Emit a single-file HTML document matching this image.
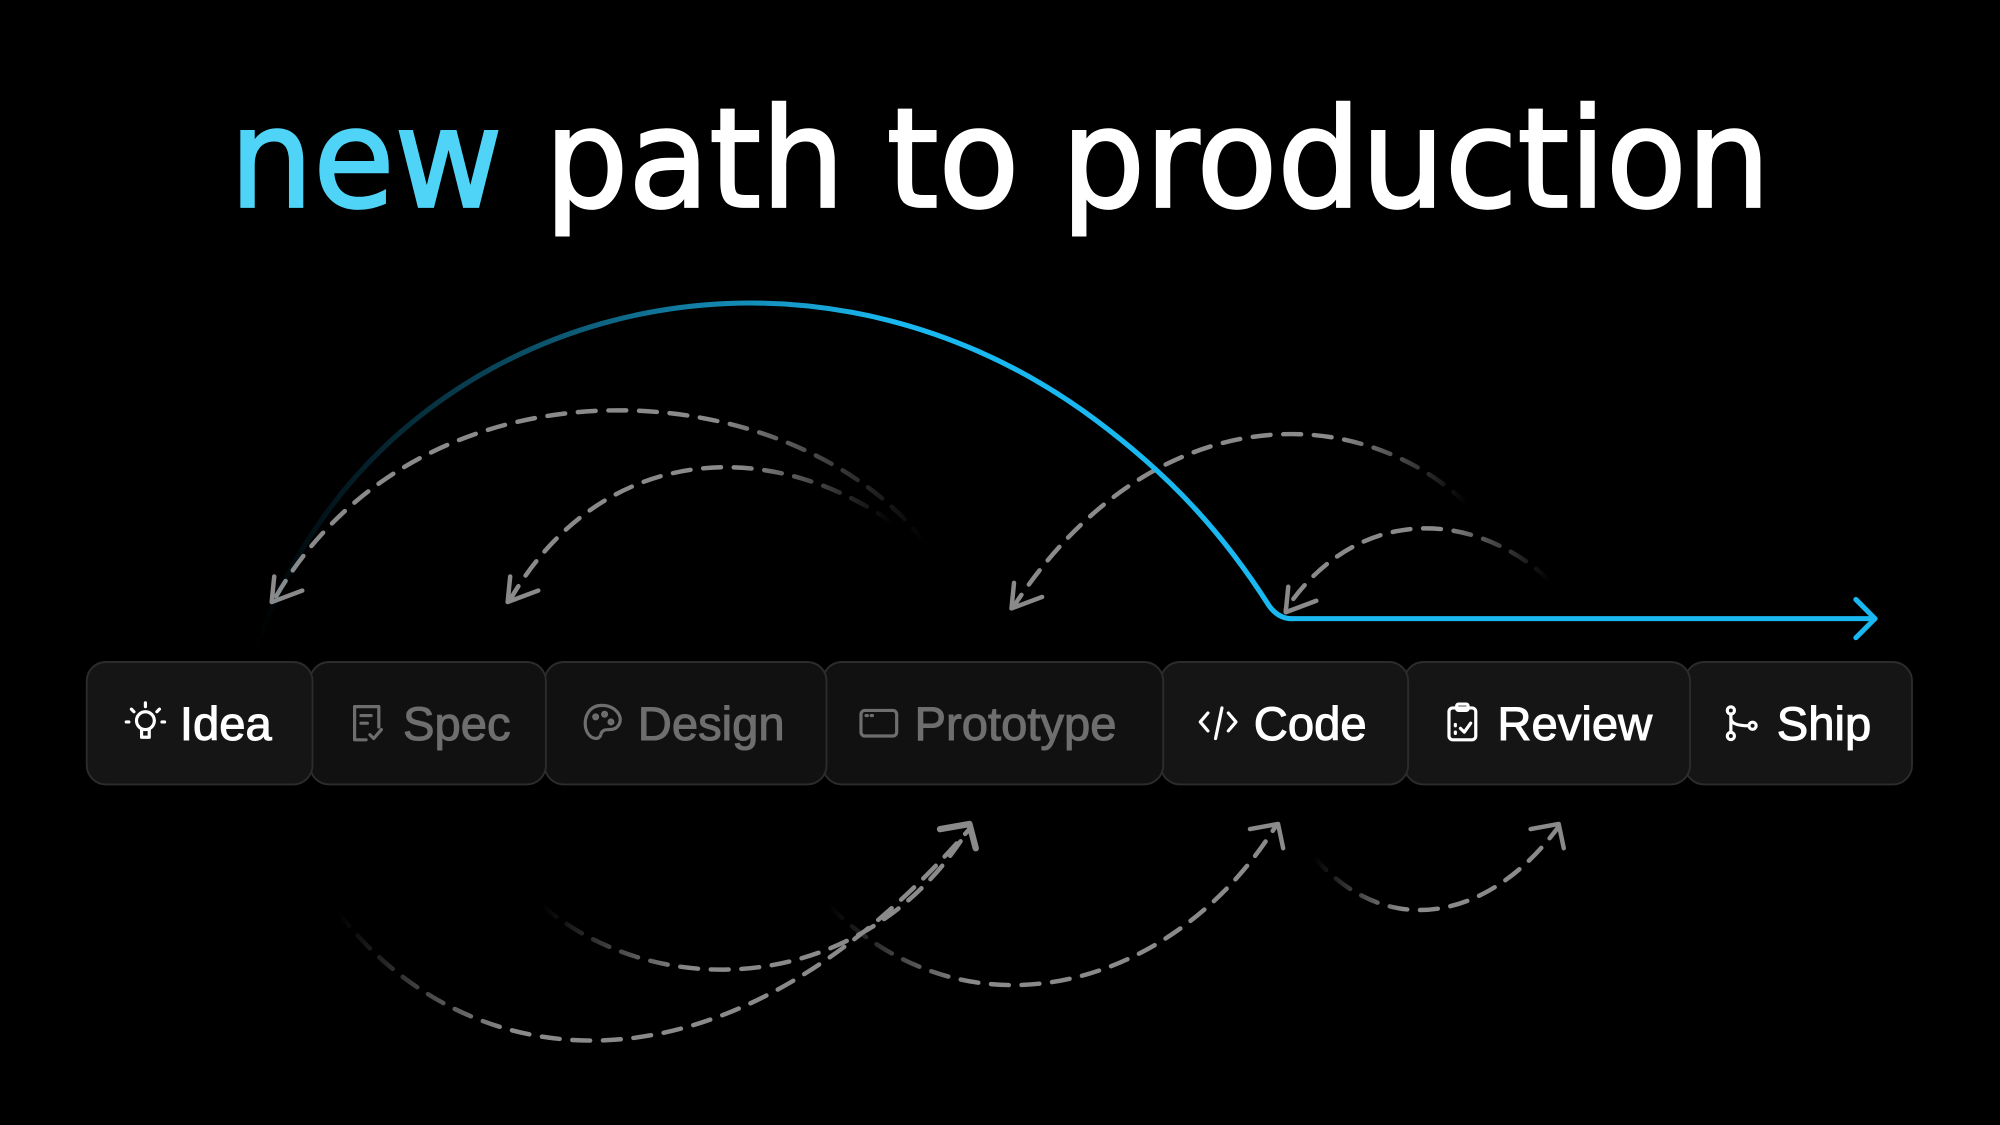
<!DOCTYPE html>
<html><head><meta charset="utf-8"><style>
html,body{margin:0;padding:0;background:#000;}
svg{display:block}
</style></head><body>
<svg width="2000" height="1125" viewBox="0 0 1568 882" xmlns="http://www.w3.org/2000/svg">
<defs>
<linearGradient id="blue" gradientUnits="userSpaceOnUse" x1="200" y1="0" x2="700" y2="0">
<stop offset="0" stop-color="#1ab8f0" stop-opacity="0"/>
<stop offset="1" stop-color="#1ab8f0"/>
</linearGradient>
<linearGradient id="g1" gradientUnits="userSpaceOnUse" x1="725" y1="0" x2="560" y2="0"><stop offset="0" stop-color="#8a8a8a" stop-opacity="0"/><stop offset="1" stop-color="#8a8a8a"/></linearGradient>
<linearGradient id="g2" gradientUnits="userSpaceOnUse" x1="700" y1="0" x2="580" y2="0"><stop offset="0" stop-color="#8a8a8a" stop-opacity="0"/><stop offset="1" stop-color="#8a8a8a"/></linearGradient>
<linearGradient id="g3" gradientUnits="userSpaceOnUse" x1="1150" y1="0" x2="1050" y2="0"><stop offset="0" stop-color="#8a8a8a" stop-opacity="0"/><stop offset="1" stop-color="#8a8a8a"/></linearGradient>
<linearGradient id="g4" gradientUnits="userSpaceOnUse" x1="1215" y1="0" x2="1130" y2="0"><stop offset="0" stop-color="#8a8a8a" stop-opacity="0"/><stop offset="1" stop-color="#8a8a8a"/></linearGradient>
<linearGradient id="g5" gradientUnits="userSpaceOnUse" x1="265" y1="0" x2="400" y2="0"><stop offset="0" stop-color="#8a8a8a" stop-opacity="0"/><stop offset="1" stop-color="#8a8a8a"/></linearGradient>
<linearGradient id="g6" gradientUnits="userSpaceOnUse" x1="425" y1="0" x2="540" y2="0"><stop offset="0" stop-color="#8a8a8a" stop-opacity="0"/><stop offset="1" stop-color="#8a8a8a"/></linearGradient>
<linearGradient id="g7" gradientUnits="userSpaceOnUse" x1="650" y1="0" x2="760" y2="0"><stop offset="0" stop-color="#8a8a8a" stop-opacity="0"/><stop offset="1" stop-color="#8a8a8a"/></linearGradient>
<linearGradient id="g8" gradientUnits="userSpaceOnUse" x1="1030" y1="0" x2="1100" y2="0"><stop offset="0" stop-color="#8a8a8a" stop-opacity="0"/><stop offset="1" stop-color="#8a8a8a"/></linearGradient>
</defs>

<text x="180" y="162" textLength="1208" lengthAdjust="spacingAndGlyphs" font-family="'DejaVu Sans','Liberation Sans',sans-serif" font-size="108" fill="#fff" stroke="#fff" stroke-width="2"><tspan fill="#4fd4f7" stroke="#4fd4f7">new</tspan> path to production</text>

<!-- dashed arcs -->
<g fill="none" stroke-width="3.5" stroke-dasharray="14 10" stroke-linecap="round">
<path d="M725,425 C620,290 330,270 215,470" stroke="url(#g1)"/>
<path d="M700,410 C600,340 470,350 400,470" stroke="url(#g2)"/>
<path d="M1150,395 C1060,310 900,315 795,475" stroke="url(#g3)"/>
<path d="M1215,455 C1150,395 1060,400 1008,478" stroke="url(#g4)"/>
<path d="M265,715 C360,840 560,880 760,650" stroke="url(#g5)"/>
<path d="M425,710 C520,790 680,777 758,652" stroke="url(#g6)"/>
<path d="M650,710 C760,820 920,775 1000,648" stroke="url(#g7)"/>
<path d="M1030,672 C1090,740 1170,719 1222,648" stroke="url(#g8)"/>
</g>
<g fill="none" stroke="#8a8a8a" stroke-width="3.5" stroke-linecap="round" stroke-linejoin="round">
<path d="M215,452 L213,472 L237,463"/>
<path d="M400,452 L398,472 L422,463"/>
<path d="M795,457 L793,477 L817,468"/>
<path d="M1010,460 L1008,480 L1032,471"/>
<path d="M737,650 L760,646 L765,665" stroke-width="5"/>
<path d="M980,650 L1002,646 L1006,665"/>
<path d="M1200,650 L1222,646 L1226,665"/>
</g>

<!-- blue arc -->
<path d="M200,510 C290,245 620,150 860,330 C920,375 960,420 995,475 Q1003,486 1015,485 L1470,485" fill="none" stroke="url(#blue)" stroke-width="4" stroke-linecap="round"/>
<path d="M1455,470 L1470,485 L1455,500" fill="none" stroke="#1ab8f0" stroke-width="4" stroke-linecap="round" stroke-linejoin="round"/>

<!-- buttons -->
<g stroke="#2c2c2c" stroke-width="1.5">
<rect x="1321" y="519" width="178" height="96" rx="15" fill="#151515"/>
<rect x="1101" y="519" width="224" height="96" rx="15" fill="#151515"/>
<rect x="910" y="519" width="194" height="96" rx="15" fill="#151515"/>
<rect x="645" y="519" width="267" height="96" rx="15" fill="#111"/>
<rect x="427" y="519" width="221" height="96" rx="15" fill="#111"/>
<rect x="243" y="519" width="185" height="96" rx="15" fill="#111"/>
<rect x="68" y="519" width="177" height="96" rx="15" fill="#151515"/>
</g>
<g font-family="'Liberation Sans',sans-serif" font-size="37" stroke-width="0.8">
<text x="141" y="580" fill="#fff" stroke="#fff">Idea</text>
<text x="316" y="580" fill="#6e6e6e" stroke="#6e6e6e">Spec</text>
<text x="500" y="580" fill="#6e6e6e" stroke="#6e6e6e">Design</text>
<text x="717" y="580" fill="#6e6e6e" stroke="#6e6e6e">Prototype</text>
<text x="983" y="580" fill="#fff" stroke="#fff">Code</text>
<text x="1174" y="580" fill="#fff" stroke="#fff">Review</text>
<text x="1393" y="580" fill="#fff" stroke="#fff">Ship</text>
</g>
<!-- icons -->
<g fill="none" stroke-width="2.5" stroke-linecap="round" stroke-linejoin="round">
<g stroke="#fff">
<circle cx="114" cy="565" r="7"/><path d="M111,572 L111,578 L117,578 L117,572"/>
<path d="M114,551 L114,554 M103,556 L105,558 M125,556 L123,558 M99,566 L101,566 M127,566 L129,566"/>
</g>
<g stroke="#6e6e6e">
<path d="M287,580 L278,580 L278,554 L297,554 L297,570"/><path d="M283,561 L291,561 M283,567 L288,567 M290,576 L293,579 L299,572"/>
<path d="M472,553 C461,553 458,563 459,570 C461,580 470,581 471,576 C472,572 475,572 478,572 C485,572 487,566 486,562 C484,556 478,553 472,553 Z"/>
<circle cx="467" cy="562" r="1.5"/><circle cx="474" cy="560" r="1.5"/><circle cx="479" cy="566" r="1.5"/>
<rect x="675" y="557" width="28" height="20" rx="3"/><path d="M679,561 L680,561 M683,561 L684,561"/>
</g>
<g stroke="#fff">
<path d="M947,559 L941,566 L947,573 M963,559 L969,566 L963,573 M958,555 L953,579"/>
<rect x="1136" y="555" width="21" height="25" rx="3"/><rect x="1142" y="552" width="9" height="5" rx="1.5"/><path d="M1141,568 L1141,569 M1141,574 L1141,575 M1145,571 L1148,574 L1153,567"/>
<circle cx="1357" cy="557" r="2.8"/><circle cx="1357" cy="577" r="2.8"/><circle cx="1374" cy="569" r="2.8"/><path d="M1357,560 L1357,574 M1357,563 C1357,568 1364,569 1371,569"/>
</g>
</g>
</svg>
</body></html>
